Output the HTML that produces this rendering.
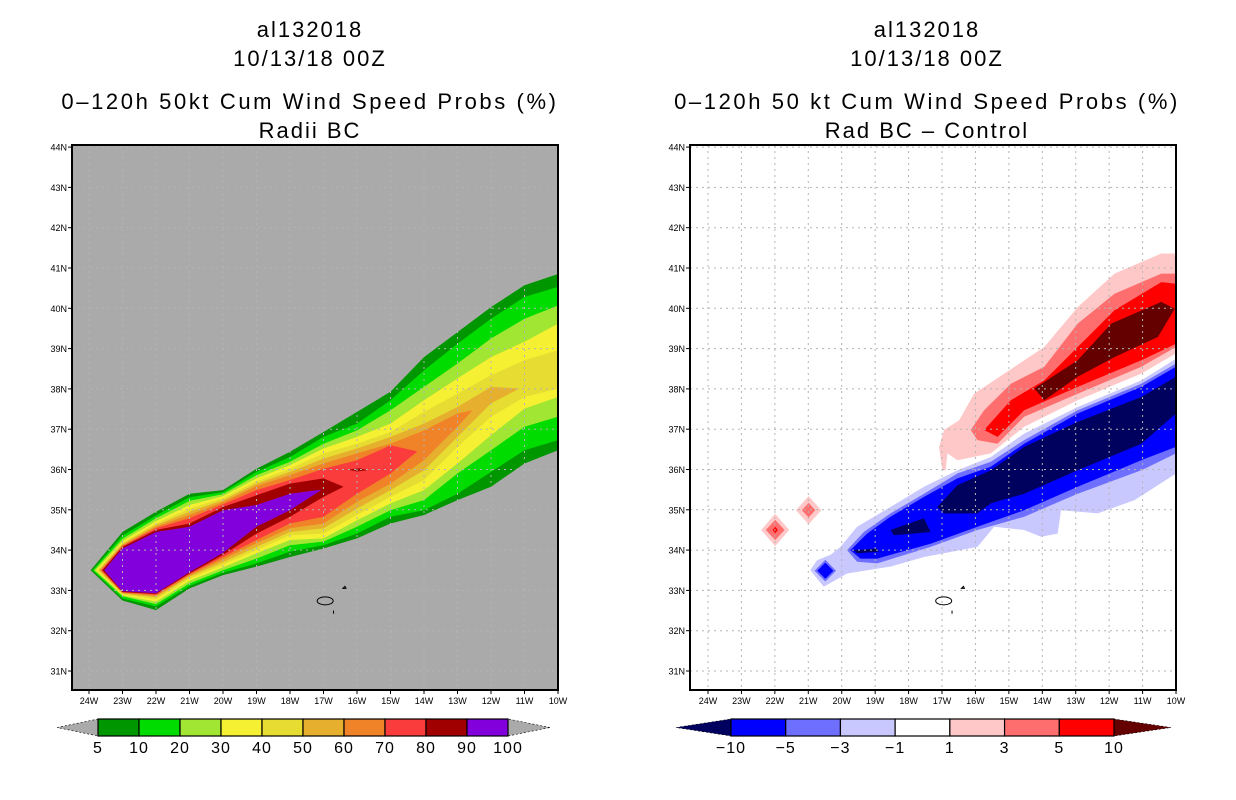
<!DOCTYPE html>
<html><head><meta charset="utf-8">
<style>
html,body{margin:0;padding:0;background:#fff;}
body{width:1236px;height:800px;overflow:hidden;position:relative;font-family:"Liberation Sans",sans-serif;}
.t{position:absolute;text-align:center;font-size:22px;color:#000;letter-spacing:2px;white-space:nowrap;}
.m{letter-spacing:2.6px;}
svg{position:absolute;left:0;top:0;}
</style></head>
<body>
<div class="t" style="left:160px;width:300px;top:17px">al132018</div>
<div class="t" style="left:160px;width:300px;top:46px">10/13/18 00Z</div>
<div class="t m" style="left:10px;width:600px;top:89px">0–120h 50kt Cum Wind Speed Probs (%)</div>
<div class="t" style="left:160px;width:300px;top:118px">Radii BC</div>
<div class="t" style="left:777px;width:300px;top:17px">al132018</div>
<div class="t" style="left:777px;width:300px;top:46px">10/13/18 00Z</div>
<div class="t m" style="left:617px;width:620px;top:89px">0–120h 50 kt Cum Wind Speed Probs (%)</div>
<div class="t" style="left:727px;width:400px;top:118px">Rad BC – Control</div>
<svg id="svg" width="1236" height="800" xmlns="http://www.w3.org/2000/svg"></svg>
<script>
// ---- data (left panel: probability contour bands; lat of top/bottom edges at each lon W) ----
const lonsW = [23,22,21,20,19,18,17,16,15,14,13,12,11,10];
const probLevels = [5,10,20,30,40,50,60,70,80,90];
const probColors = ['#009600','#00dc00','#a0e632','#f5f032','#e6dc32','#e6af2d','#f08228','#fa3c3c','#a00000','#8200dc'];
const westTipLon = [23.95,23.9,23.85,23.8,23.75,23.7,23.67,23.63,23.6,23.55];
const westTipLat = [33.5,33.5,33.5,33.5,33.5,33.5,33.5,33.5,33.5,33.5];
const eastTip = [null,null,null,null,null,[11.15,38.01],[12.55,37.47],[14.2,36.45],[16.4,35.57],[17.05,35.5]];
const topLat = [
 [34.45,34.95,35.4,35.49,36.02,36.44,36.93,37.43,37.93,38.79,39.41,40.03,40.57,40.85],
 [34.36,34.86,35.31,35.44,35.94,36.31,36.81,37.14,37.72,38.46,39.12,39.74,40.28,40.53],
 [34.28,34.79,35.22,35.39,35.86,36.19,36.64,36.97,37.47,38.05,38.63,39.25,39.74,40.07],
 [34.22,34.72,35.12,35.34,35.78,36.11,36.52,36.81,37.14,37.72,38.26,38.79,39.17,39.62],
 [34.18,34.66,35.03,35.29,35.71,36.02,36.4,36.64,36.93,37.43,37.88,38.34,38.71,38.96],
 [34.15,34.62,34.95,35.24,35.65,35.94,36.27,36.52,36.81,37.14,37.55,38.05],
 [34.12,34.58,34.87,35.19,35.59,35.86,36.15,36.4,36.64,36.97,37.39],
 [34.1,34.54,34.79,35.14,35.49,35.74,36.02,36.23,36.6],
 [34.08,34.5,34.66,35.07,35.36,35.65,35.78],
 [34.04,34.45,34.58,34.99,35.12,35.4]
];
const botLat = [
 [32.75,32.51,33.05,33.38,33.59,33.83,34.04,34.29,34.66,34.87,35.24,35.57,36.15,36.48],
 [32.8,32.6,33.11,33.44,33.67,33.96,34.12,34.41,34.83,34.99,35.4,35.94,36.48,36.73],
 [32.85,32.66,33.17,33.5,33.79,34.12,34.21,34.58,34.99,35.24,35.9,36.48,37.06,37.31],
 [32.88,32.72,33.24,33.57,33.92,34.25,34.29,34.74,35.16,35.49,36.15,36.85,37.51,37.8],
 [32.9,32.78,33.29,33.64,34.0,34.37,34.41,34.87,35.32,35.74,36.56,37.31,37.8,38.01],
 [32.92,32.83,33.34,33.7,34.08,34.45,34.54,35.03,35.49,35.98,36.81,37.64],
 [32.94,32.86,33.37,33.77,34.17,34.54,34.66,35.2,35.65,36.23,37.06],
 [32.95,32.89,33.4,33.83,34.25,34.66,34.83,35.4,35.9],
 [32.96,32.91,33.42,33.88,34.41,34.83,35.32],
 [32.98,32.93,33.45,33.93,34.58,34.99]
];
// ---- data (right panel: difference contour polygons, [lonW, lat]) ----
const diffLevels = [-10,-5,-3,-1,1,3,5,10];
const diffColors = ['#00005f','#0000ff','#6e6eff','#c8c8ff','#ffffff','#ffc8c8','#ff6e6e','#ff0000','#640000'];
const pinkArea = [[16.99,35.98],[17.09,36.56],[16.94,36.98],[16.49,37.22],[16.04,37.88],[15.14,38.38],[13.94,39.04],[12.94,40.03],[11.84,40.86],[10.44,41.36],[10,41.36],[10,38.88],[11.04,38.38],[12.94,37.72],[14.54,37.06],[15.54,36.4],[16.54,36.23],[16.84,36.4],[16.89,35.98]];
const pinkRedArea = [[16.14,36.98],[15.74,37.47],[14.94,38.13],[13.94,38.55],[12.94,39.62],[11.84,40.36],[10.44,40.86],[10,40.86],[10,39.04],[11.04,38.55],[12.94,37.88],[14.54,37.31],[15.34,36.64],[15.94,36.73]];
const redArea = [[15.74,36.98],[14.94,37.72],[13.94,38.21],[12.94,39.04],[11.84,39.95],[10.44,40.65],[10,40.61],[10,39.12],[11.04,38.71],[12.94,38.05],[14.54,37.47],[15.34,36.81]];
const darkRedArea = [[14.24,38.01],[12.94,38.71],[11.94,39.62],[10.44,40.16],[10.04,39.99],[10.54,39.29],[11.84,38.79],[12.94,38.3],[13.94,37.72]];
const lavenderArea = [[10,38.75],[11.04,38.21],[12.94,37.55],[14.54,36.89],[15.54,36.31],[16.54,35.98],[17.54,35.57],[18.54,35.07],[19.54,34.58],[20.04,34.08],[20.34,33.88],[20.74,33.75],[20.94,33.5],[20.54,33.09],[19.84,33.42],[18.54,33.59],[17.54,33.83],[15.94,34.08],[15.44,34.58],[14.54,34.5],[14.04,34.33],[13.54,34.41],[13.44,34.99],[12.34,34.91],[11.24,35.24],[10,35.9]];
const midBlueArea = [[10,38.63],[11.04,38.13],[12.94,37.47],[14.54,36.73],[15.54,36.19],[16.54,35.9],[17.54,35.4],[18.54,34.91],[19.34,34.45],[19.84,34.0],[19.54,33.71],[18.94,33.67],[17.34,34.08],[15.94,34.5],[14.54,34.83],[12.94,35.4],[11.04,35.98],[10,36.4]];
const blueArea = [[10,38.55],[11.04,38.05],[12.94,37.39],[14.54,36.64],[15.54,36.07],[16.54,35.78],[17.54,35.32],[18.54,34.83],[19.24,34.41],[19.74,34.0],[19.44,33.79],[18.94,33.79],[17.34,34.16],[15.94,34.58],[14.54,34.99],[12.94,35.57],[11.04,36.23],[10,36.56]];
const navyArea = [[10,38.3],[11.04,37.8],[12.94,37.18],[14.54,36.56],[15.54,35.98],[16.54,35.61],[17.14,35.07],[16.94,34.91],[15.94,34.91],[15.54,35.16],[14.54,35.4],[12.94,35.98],[11.04,36.64],[10,37.39]];
const navySpot1 = [[18.54,34.5],[17.54,34.79],[17.34,34.45],[18.44,34.37]];
const navySpot2 = [[19.64,34.0],[18.94,34.04],[18.89,33.96],[19.54,33.92]];
// diamonds: [centerLonW, centerLat, halfWidthDeg, halfHeightDeg, colorIndex]
const diamonds = [
 [20.49,33.49,0.42,0.35,3],[20.49,33.49,0.32,0.27,2],[20.49,33.49,0.24,0.2,1],
 [21.99,34.5,0.42,0.4,5],[21.99,34.5,0.28,0.25,6],[21.99,34.5,0.08,0.08,7],
 [20.99,34.99,0.38,0.35,5],[20.99,34.99,0.2,0.18,6]
];
const latTicks = [31,32,33,34,35,36,37,38,39,40,41,42,43,44];
const lonTicks = [24,23,22,21,20,19,18,17,16,15,14,13,12,11,10];
const probLabels = ['5','10','20','30','40','50','60','70','80','90','100'];
const diffLabels = ['−10','−5','−3','−1','1','3','5','10'];

// ---- axes ----
const NS='http://www.w3.org/2000/svg';
const svg=document.getElementById('svg');
const panels=[{x0:89,dx:33.5,L:72,R:558},{x0:708,dx:33.43,L:690,R:1176}];
const TOP=145,BOT=690;
function px(p,w){return panels[p].x0+(24-w)*panels[p].dx;}
function py(lat){return 671-(lat-31)*40.3;}
function el(tag,attrs,parent){const e=document.createElementNS(NS,tag);for(const k in attrs)e.setAttribute(k,attrs[k]);(parent||svg).appendChild(e);return e;}
function pts(p,arr){return arr.map(a=>px(p,a[0]).toFixed(1)+','+py(a[1]).toFixed(1)).join(' ');}

const defs=el('defs',{});
[0,1].forEach(p=>{const c=el('clipPath',{id:'clip'+p},defs);el('rect',{x:panels[p].L,y:TOP,width:panels[p].R-panels[p].L,height:BOT-TOP},c);});

// ---- left panel ----
const gL=el('g',{'clip-path':'url(#clip0)'});


const bg=el('rect',{x:72,y:TOP,width:486,height:BOT-TOP,fill:'#aaaaaa'},gL);


probLevels.forEach((lv,i)=>{
  const poly=[[westTipLon[i],westTipLat[i]]];
  topLat[i].forEach((v,j)=>poly.push([lonsW[j],v]));
  if(eastTip[i]) poly.push(eastTip[i]);
  for(let j=botLat[i].length-1;j>=0;j--) poly.push([lonsW[j],botLat[i][j]]);
  const e=el('polygon',{points:pts(0,poly),fill:probColors[i]},gL);
  
  
});
const spot=el('polygon',{points:pts(0,[[16.3,36.0],[15.9,36.03],[15.7,35.98],[16.0,35.95]]),fill:'#a00000'},gL);



// ---- right panel ----
const gR=el('g',{'clip-path':'url(#clip1)'});


const diffPolys=[[pinkArea,5,'diff-pink'],[pinkRedArea,6,'diff-salmon'],[redArea,7,'diff-red'],[darkRedArea,8,'diff-darkred'],[lavenderArea,3,'diff-lavender'],[midBlueArea,2,'diff-midblue'],[blueArea,1,'diff-blue'],[navyArea,0,'diff-navy'],[navySpot1,0,'diff-navy-spot'],[navySpot2,0,'diff-navy-spot']];
diffPolys.forEach(d=>{
  const e=el('polygon',{points:pts(1,d[0]),fill:diffColors[d[1]]},gR);
  
  
});
diamonds.forEach(d=>{
  const poly=[[d[0]+d[2],d[1]],[d[0],d[1]+d[3]],[d[0]-d[2],d[1]],[d[0],d[1]-d[3]]];
  const e=el('polygon',{points:pts(1,poly),fill:diffColors[d[4]]},gR);
  
  
});

// grid, island, frame, ticks
[0,1].forEach(p=>{
  const g=el('g',{'clip-path':'url(#clip'+p+')'});
  
  
  lonTicks.forEach(w=>{const l=el('line',{x1:px(p,w),x2:px(p,w),y1:TOP,y2:BOT,stroke:'#b4b4b4','stroke-width':1,'stroke-dasharray':'2,4'},g);
    
    });
  latTicks.forEach(v=>{const l=el('line',{x1:panels[p].L,x2:panels[p].R,y1:py(v),y2:py(v),stroke:'#b4b4b4','stroke-width':1,'stroke-dasharray':'2,4'},g);
    
    });
  const isl=el('ellipse',{cx:px(p,16.95),cy:py(32.74),rx:8,ry:4,fill:'none',stroke:'#000','stroke-width':1});
  
  
  el('line',{x1:px(p,16.7),y1:py(32.5),x2:px(p,16.7),y2:py(32.42),stroke:'#000'});
  el('path',{d:'M'+px(p,16.42)+' '+py(33.05)+' l2 -2 l1 2z',fill:'none',stroke:'#000'});
  const fr=el('rect',{x:panels[p].L,y:TOP,width:panels[p].R-panels[p].L,height:BOT-TOP,fill:'none',stroke:'#000','stroke-width':2});
  
  
  latTicks.forEach(v=>{
    el('line',{x1:panels[p].L-4,x2:panels[p].L,y1:py(v),y2:py(v),stroke:'#000'});
    const t=el('text',{x:panels[p].L-5,y:py(v)+3.5,'font-size':9,'text-anchor':'end','font-family':'Liberation Sans, sans-serif'});
    t.textContent=v+'N';
    
    
  });
  lonTicks.forEach(w=>{
    el('line',{x1:px(p,w),x2:px(p,w),y1:BOT,y2:BOT+4,stroke:'#000'});
    const t=el('text',{x:px(p,w),y:BOT+14,'font-size':9,'text-anchor':'middle','font-family':'Liberation Sans, sans-serif'});
    t.textContent=w+'W';
    
    
  });
});

// ---- colorbars ----
function colorbar(x0,x1,tipL,tipR,colors,labels,lcol,rcol,name){
  const g=el('g',{});
  
  
  const y0=719,y1=736,n=colors.length,bw=(x1-x0)/n;
  el('polygon',{points:`${tipL},${(y0+y1)/2} ${x0},${y0} ${x0},${y1}`,fill:lcol,stroke:'#000','stroke-width':0.6,'stroke-dasharray':'2,2'},g);
  el('polygon',{points:`${tipR},${(y0+y1)/2} ${x1},${y0} ${x1},${y1}`,fill:rcol,stroke:'#000','stroke-width':0.6,'stroke-dasharray':'2,2'},g);
  colors.forEach((c,i)=>{
    const r=el('rect',{x:x0+i*bw,y:y0,width:bw,height:y1-y0,fill:c,stroke:'#000','stroke-width':1.2},g);
    
    
  });
  labels.forEach((s,i)=>{
    const t=el('text',{x:x0+i*bw,y:753,'font-size':16,'text-anchor':'middle','font-family':'Liberation Sans, sans-serif','letter-spacing':1},g);
    t.textContent=s;
    
    
  });
}
colorbar(98,508,57,550,probColors,probLabels,'#aaaaaa','#aaaaaa','left-colorbar');
colorbar(731,1114,676,1171,diffColors.slice(1,8),diffLabels,diffColors[0],diffColors[8],'right-colorbar');
</script>
</body></html>
